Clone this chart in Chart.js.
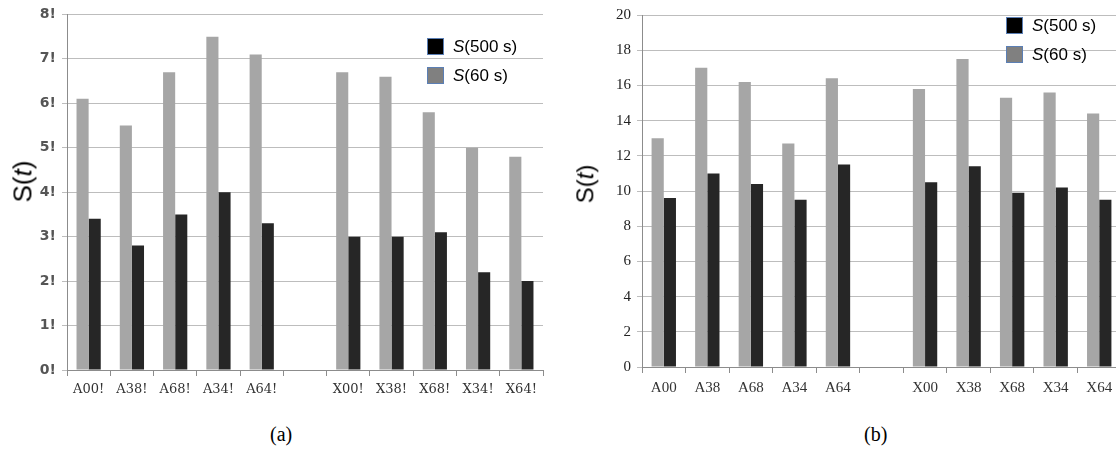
<!DOCTYPE html>
<html>
<head>
<meta charset="utf-8">
<script src="https://cdn.jsdelivr.net/npm/chart.js@4.4.0/dist/chart.umd.min.js"></script>
<style>
  body { margin: 0; background: #fff; width: 1116px; height: 453px; overflow: hidden; position: relative; }
  .box { position: absolute; overflow: hidden; }
  .ytitle { position: absolute; font-family: "Liberation Sans", Arial, sans-serif; color: #000; transform: rotate(-90deg); transform-origin: center center; white-space: nowrap; }
  .leg { position: absolute; font-family: "Liberation Sans", Arial, sans-serif; font-size: 17px; color: #000; white-space: nowrap; line-height: 17px; }
  .leg span.sw { display: inline-block; width: 15px; height: 15px; vertical-align: top; margin-right: 9px; border: 1px solid #5b7fb5; }
  .cap { position: absolute; font-family: "Liberation Serif", "Times New Roman", serif; font-size: 20px; color: #000; }
</style>
</head>
<body>
<div class="box" style="left:0;top:0;width:560px;height:400px;"><canvas id="chartA"></canvas></div>
<div class="box" style="left:560px;top:0;width:556px;height:400px;"><canvas id="chartB"></canvas></div>

<div class="ytitle" style="left:2px;top:166px;font-size:26px;">S(<i>t</i>)</div>
<div class="ytitle" style="left:566px;top:170px;font-size:24px;">S(<i>t</i>)</div>

<div class="leg" style="left:427px;top:38px;"><span class="sw" style="background:#000;"></span><i>S</i>(500 s)</div>
<div class="leg" style="left:427px;top:67px;"><span class="sw" style="background:#808080;"></span><i>S</i>(60 s)</div>
<div class="leg" style="left:1006px;top:17px;"><span class="sw" style="background:#000;"></span><i>S</i>(500 s)</div>
<div class="leg" style="left:1006px;top:46px;"><span class="sw" style="background:#808080;"></span><i>S</i>(60 s)</div>

<div class="cap" style="left:270px;top:423px;">(a)</div>
<div class="cap" style="left:864px;top:423px;">(b)</div>

<script>
// chart (a)
let labelsA = ["A00!", "A38!", "A68!", "A34!", "A64!", "", "X00!", "X38!", "X68!", "X34!", "X64!"];
let s60A = [6.1, 5.5, 6.7, 7.5, 7.1, null, 6.7, 6.6, 5.8, 5.0, 4.8];
let s500A = [3.4, 2.8, 3.5, 4.0, 3.3, null, 3.0, 3.0, 3.1, 2.2, 2.0];
let yTicksA = ["0!", "1!", "2!", "3!", "4!", "5!", "6!", "7!", "8!"];

// chart (b)
let labelsB = ["A00", "A38", "A68", "A34", "A64", "", "X00", "X38", "X68", "X34", "X64"];
let s60B = [13.0, 17.0, 16.2, 12.7, 16.4, null, 15.8, 17.5, 15.3, 15.6, 14.4];
let s500B = [9.6, 11.0, 10.4, 9.5, 11.5, null, 10.5, 11.4, 9.9, 10.2, 9.5];

let GRAY = "#a6a6a6";
let DARK = "#262626";

function makeChart(id, w, h, labels, s60, s500, yMax, yStep, yLabelFn, yFont, xFont, yWidth, pad) {
  let cv = document.getElementById(id);
  cv.width = w;
  cv.height = h;
  cv.style.width = w + "px";
  cv.style.height = h + "px";
  return new Chart(cv, {
    type: "bar",
    data: {
      labels: labels,
      datasets: [
        { label: "S(60 s)", data: s60, backgroundColor: GRAY, categoryPercentage: 0.56, barPercentage: 1 },
        { label: "S(500 s)", data: s500, backgroundColor: DARK, categoryPercentage: 0.56, barPercentage: 1 },
      ],
    },
    options: {
      responsive: false,
      animation: false,
      layout: { padding: pad },
      plugins: { legend: { display: false }, tooltip: { enabled: false } },
      scales: {
        x: {
          grid: { drawOnChartArea: false, drawTicks: true, tickLength: 6, color: "#8c8c8c" },
          border: { color: "#8c8c8c" },
          ticks: { color: "#333", font: xFont, padding: 6, maxRotation: 0, autoSkip: false },
          afterFit: function (scale) { scale.height = h - pad.top - (pad.bottom || 0) - (pad.chartH); },
        },
        y: {
          min: 0,
          max: yMax,
          grid: { color: "#bdbdbd", tickLength: 5 },
          border: { color: "#8c8c8c" },
          ticks: { stepSize: yStep, color: yFont.color, font: yFont, padding: 6, callback: yLabelFn },
          afterFit: function (scale) { scale.width = yWidth; },
        },
      },
    },
  });
}

makeChart("chartA", 548, 400, labelsA, s60A, s500A, 8, 1,
  function (v) { return yTicksA[v]; },
  { family: "'DejaVu Sans', Verdana, sans-serif", size: 14, weight: "bold", color: "#555" },
  { family: "'DejaVu Serif', 'Liberation Serif', serif", size: 13 },
  67, { top: 14, left: 0, right: 5, bottom: 0, chartH: 356 });

makeChart("chartB", 570, 400, labelsB, s60B, s500B, 20, 2,
  function (v) { return v; },
  { family: "'Liberation Serif', 'DejaVu Serif', serif", size: 15, color: "#222" },
  { family: "'Liberation Serif', 'DejaVu Serif', serif", size: 15 },
  82, { top: 9, left: 0, right: 9, bottom: 0, chartH: 358 });
</script>
</body>
</html>
